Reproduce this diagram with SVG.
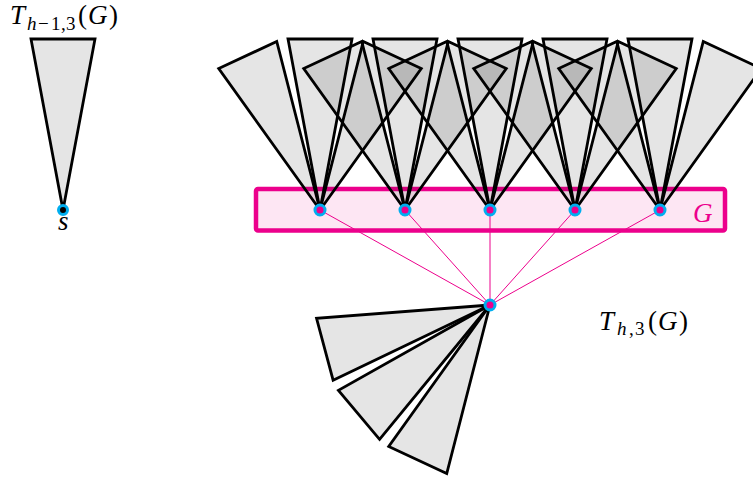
<svg xmlns="http://www.w3.org/2000/svg" xmlns:xlink="http://www.w3.org/1999/xlink" width="753" height="479" viewBox="0 0 753 479">
<style>
.tri{fill:#000;fill-opacity:0.1;stroke:#000;stroke-width:2.8;stroke-linejoin:miter}
.gnode{fill:#ec008c;stroke:#00aeef;stroke-width:3}
.snode{fill:#000;stroke:#00aeef;stroke-width:3}
.conn{stroke:#ec008c;stroke-width:1;fill:none}
.lbl{font-family:"Liberation Serif","DejaVu Serif",serif;font-size:27px;fill:#000}
.sub{font-size:19px}
.it{font-style:italic}
</style>
<defs>
<path id="tri" class="tri" d="M0,0 L-32,-171 L32,-171 Z"/>
</defs>
<rect id="box-G" x="256" y="189" width="469" height="41.5" rx="2" fill="#fde6f3" stroke="#ec008c" stroke-width="4.5"/>
<text class="lbl it" x="693" y="222" font-size="25" style="fill:#ec008c">G</text>
<g id="connectors">
<line class="conn" x1="490" y1="305" x2="320" y2="210"/>
<line class="conn" x1="490" y1="305" x2="405" y2="210"/>
<line class="conn" x1="490" y1="305" x2="490" y2="210"/>
<line class="conn" x1="490" y1="305" x2="575" y2="210"/>
<line class="conn" x1="490" y1="305" x2="660" y2="210"/>
</g>
<g id="subtree-s">
<use xlink:href="#tri" transform="translate(63,210)"/>
</g>
<g id="subtrees-g1">
<use xlink:href="#tri" transform="translate(320,210) rotate(-25)"/>
<use xlink:href="#tri" transform="translate(320,210)"/>
<use xlink:href="#tri" transform="translate(320,210) rotate(25)"/>
</g>
<g id="subtrees-g2">
<use xlink:href="#tri" transform="translate(405,210) rotate(-25)"/>
<use xlink:href="#tri" transform="translate(405,210)"/>
<use xlink:href="#tri" transform="translate(405,210) rotate(25)"/>
</g>
<g id="subtrees-g3">
<use xlink:href="#tri" transform="translate(490,210) rotate(-25)"/>
<use xlink:href="#tri" transform="translate(490,210)"/>
<use xlink:href="#tri" transform="translate(490,210) rotate(25)"/>
</g>
<g id="subtrees-g4">
<use xlink:href="#tri" transform="translate(575,210) rotate(-25)"/>
<use xlink:href="#tri" transform="translate(575,210)"/>
<use xlink:href="#tri" transform="translate(575,210) rotate(25)"/>
</g>
<g id="subtrees-g5">
<use xlink:href="#tri" transform="translate(660,210) rotate(-25)"/>
<use xlink:href="#tri" transform="translate(660,210)"/>
<use xlink:href="#tri" transform="translate(660,210) rotate(25)"/>
</g>
<g id="subtrees-root">
<use xlink:href="#tri" transform="translate(490,305) rotate(205)"/>
<use xlink:href="#tri" transform="translate(490,305) rotate(230)"/>
<use xlink:href="#tri" transform="translate(490,305) rotate(255)"/>
</g>
<g id="node-s">
<circle class="snode" cx="63" cy="210" r="4.5"/>
<text class="lbl it" x="58" y="230" font-size="24">s</text>
</g>
<g id="node-g1"><circle class="gnode" cx="320" cy="210" r="5"/></g>
<g id="node-g2"><circle class="gnode" cx="405" cy="210" r="5"/></g>
<g id="node-g3"><circle class="gnode" cx="490" cy="210" r="5"/></g>
<g id="node-g4"><circle class="gnode" cx="575" cy="210" r="5"/></g>
<g id="node-g5"><circle class="gnode" cx="660" cy="210" r="5"/></g>
<g id="node-root"><circle class="gnode" cx="490" cy="305" r="5"/></g>
<text class="lbl"><tspan class="it" x="10" y="24">T</tspan><tspan class="sub it" x="27" y="30">h</tspan><tspan class="sub" x="38" y="30">−</tspan><tspan class="sub" x="51" y="30">1</tspan><tspan class="sub" x="61" y="30">,</tspan><tspan class="sub" x="66" y="30">3</tspan><tspan x="78" y="24">(</tspan><tspan class="it" x="88" y="24">G</tspan><tspan x="109" y="24">)</tspan></text>
<text class="lbl"><tspan class="it" x="599" y="330">T</tspan><tspan class="sub it" x="617" y="335">h</tspan><tspan class="sub" x="629" y="335">,</tspan><tspan class="sub" x="635" y="335">3</tspan><tspan x="648" y="330">(</tspan><tspan class="it" x="658" y="330">G</tspan><tspan x="679" y="330">)</tspan></text>
</svg>
